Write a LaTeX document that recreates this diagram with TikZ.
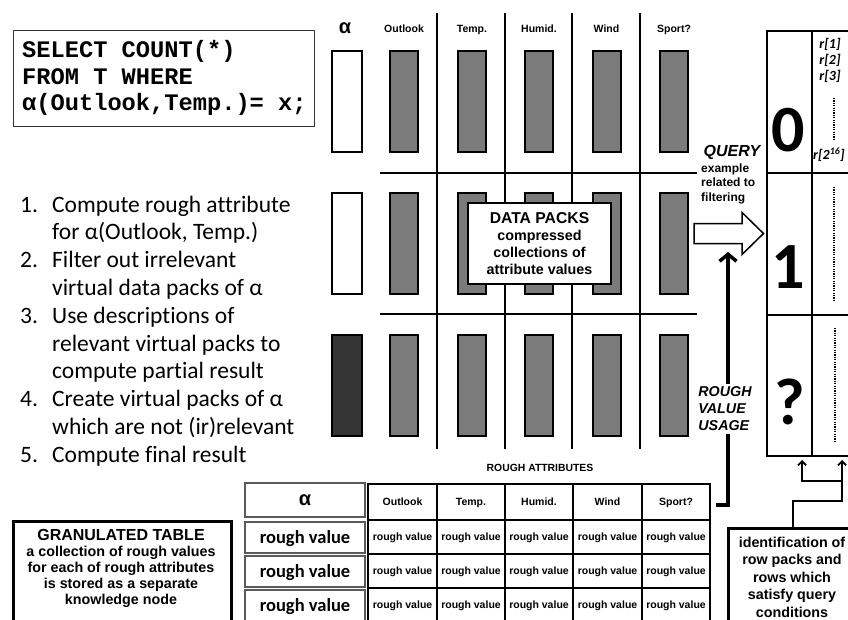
\documentclass[tikz,border=0pt]{standalone}
\usepackage{fontspec}
\setmainfont{Carlito}[Ligatures=NoCommon]
\newfontfamily\arialfont{Liberation Sans}
\newfontfamily\monofont{Liberation Mono}
\usetikzlibrary{arrows.meta}
\definecolor{packgray}{HTML}{7B7B7B}
\definecolor{packdark}{HTML}{353535}
\definecolor{framegray}{HTML}{5A5A5A}
\newcommand\fsz[2]{\fontsize{#1}{#2}\selectfont}

\begin{document}
\begin{tikzpicture}[x=1pt,y=-1pt,
  packbox/.style={draw, line width=2pt, fill=packgray, minimum width=28pt, minimum height=101pt, inner sep=0pt},
  alphabox/.style={packbox, minimum width=30pt},
  gridline/.style={line width=2pt},
  colhead/.style={font=\arialfont\bfseries\fsz{10.5}{12}, anchor=base, inner sep=0pt},
  cellbox/.style={draw, line width=2pt, inner sep=0pt},
  tabcell/.style={draw, line width=2.5pt, inner sep=0pt, text height=7.6pt, text depth=0pt, font=\arialfont\bfseries\fsz{10.5}{12}},
  leftcell/.style={draw=framegray, line width=1.3pt, inner sep=0pt, minimum width=120pt},
  bigdigit/.style={font=\bfseries\fsz{66}{70}, inner sep=0pt},
  rlabel/.style={font=\bfseries\itshape\fsz{14}{16}, inner sep=0pt},
  dotline/.style={line width=1.6pt, dash pattern=on 1.2pt off 1.2pt},
  listnum/.style={anchor=base west, inner sep=0pt, font=\fsz{23.5}{28}},
  bodybold/.style={font=\arialfont\bfseries\fsz{14.3}{17}, align=center, inner sep=0pt},
  bigarrow/.style={line width=3.5pt, -{Straight Barb[length=7pt,width=17pt]}},
  smallarrow/.style={line width=1.8pt, -{Straight Barb[length=4pt,width=8pt]}},
]
\useasboundingbox (0,0) rectangle (848,619);
\clip (0,0) rectangle (848,619);

% ---- query text box ----
\node[draw=black!80, line width=1.2pt, minimum width=301pt, minimum height=96pt, anchor=north west] (sqlbox) at (13,30) {};
\node[anchor=west, align=left, inner sep=0pt, font=\monofont\bfseries\fsz{23.7}{26.5}] (sql) at (22,78)
  {SELECT COUNT(*)\\FROM T WHERE\\α(Outlook,Temp.)= x;};

% ---- numbered steps ----
\foreach \i/\t [count=\k from 0] in {
  1/Compute rough attribute,
  /for α(Outlook{,} Temp.),
  2/Filter out irrelevant,
  /virtual data packs of α,
  3/Use descriptions of,
  /relevant virtual packs to,
  /compute partial result,
  4/Create virtual packs of α,
  /which are not (ir)relevant,
  5/Compute final result} {
  \node[listnum] (num\k) at (20,212+27.8*\k) {\ifx\i\empty\else\i.\fi};
  \node[listnum] (step\k) at (52,212+27.8*\k) {\t};
}

% ---- column grid of the data packs ----
\foreach \x in {437,505,572,640} \draw[gridline] (\x,13) -- (\x,449);
\foreach \y in {173,314} \draw[gridline] (380,\y) -- (697,\y);

% column headers
\node[font=\arialfont\bfseries\fsz{20}{21}, anchor=base, inner sep=0pt] (halpha) at (345,33) {α};
\foreach \nm/\x/\lab in {out/404/Outlook, tmp/472/Temp., hum/539/Humid., wnd/606.5/Wind, spt/674/Sport?}
  \node[colhead] (head-\nm) at (\x,32) {\lab};

% data packs
\foreach \nm/\x in {out/404, tmp/472, hum/539, wnd/606.5, spt/674}
  \foreach \r/\y in {a/101.5, b/243, c/385}
    \node[packbox] (\nm-\r) at (\x,\y) {};
\node[alphabox, fill=white] (al-a) at (347,101.5) {};
\node[alphabox, fill=white] (al-b) at (347,243) {};
\node[alphabox, fill=packdark] (al-c) at (347,385) {};

\node[draw, line width=2pt, fill=white, minimum width=143pt, minimum height=81pt, bodybold] (dp) at (539.5,243.5)
  {{\fsz{15.7}{19}DATA PACKS}\\compressed\\collections of\\attribute values};

% ---- row packs on the right ----
\node[cellbox, minimum width=45pt, minimum height=142pt] (c0) at (789.5,102) {};
\node[cellbox, minimum width=45pt, minimum height=142pt] (c1) at (789.5,244) {};
\node[cellbox, minimum width=45pt, minimum height=141pt] (c2) at (789.5,385.5) {};
\node[cellbox, minimum width=60pt, minimum height=142pt] (r0) at (842,102) {};
\node[cellbox, minimum width=60pt, minimum height=142pt] (r1) at (842,244) {};
\node[cellbox, minimum width=60pt, minimum height=141pt] (r2) at (842,385.5) {};

\node[bigdigit] (d0) at (788,130) {0};
\node[bigdigit] (d1) at (788,267) {1};
\node[bigdigit] (d2) at (790,402) {?};

\node[rlabel] (rr1) at (830,44) {r[1]};
\node[rlabel] (rr2) at (830,60) {r[2]};
\node[rlabel] (rr3) at (830,76) {r[3]};
\node[rlabel, anchor=west] (rrn) at (813,155) {r[2\textsuperscript{16}]};
\draw[dotline] (834,98) -- (834,140);
\draw[dotline] (834,187) -- (834,302);
\draw[dotline] (835,328) -- (835,442);

% ---- query arrow ----
\node[font=\arialfont\bfseries\itshape\fsz{16}{18}, inner sep=0pt] (qtitle) at (732,152) {QUERY};
\node[anchor=west, align=left, inner sep=0pt, font=\arialfont\bfseries\fsz{12}{14.5}] (qtext) at (701,183.5)
  {example\\related to\\filtering};
\draw[line width=1.5pt, fill=white, line join=miter]
  (694,223.5) -- (742,223.5) -- (742,212.5) -- (763.5,233.5) -- (742,254.5) -- (742,243.5) -- (694,243.5) -- cycle;
\coordinate (qtip) at (728,252);

% ---- rough attributes table ----
\node[font=\arialfont\bfseries\fsz{10.4}{12}] (rattr) at (540,468) {ROUGH ATTRIBUTES};
\foreach \c/\x/\w/\lab in {1/402.5/69/Outlook, 2/471/68/Temp., 3/539/68/Humid., 4/607.5/69/Wind, 5/676/68/Sport?} {
  \node[tabcell, minimum width=\w pt, minimum height=36pt] (h\c) at (\x,502) {\lab};
  \foreach \r/\y in {1/537, 2/571, 3/605}
    \node[tabcell, minimum width=\w pt, minimum height=34pt] (v\r-\c) at (\x,\y) {rough value};
}

\node[leftcell, minimum height=34pt, font=\arialfont\bfseries\fsz{20}{21}] (la) at (305,500) {α};
\foreach \r/\y in {1/537.5, 2/571.5, 3/605.5}
  \node[leftcell, minimum height=31pt, text height=12pt, text depth=0pt, font=\bfseries\fsz{18.5}{20}] (lr\r) at (305,\y) {rough value};

% ---- rough value usage ----
\draw[bigarrow] ([shift={(5,3)}]h5.east) -| (qtip);
\node[fill=white, align=left, inner sep=3pt, font=\arialfont\bfseries\itshape\fsz{14.3}{17}] (usage) at (725,409)
  {ROUGH\\VALUE\\USAGE};

% ---- granulated table note ----
\node[draw, line width=2.5pt, minimum width=218pt, minimum height=120pt, anchor=north west] (gt) at (12,520) {};
\node[bodybold, font=\arialfont\bfseries\fsz{14.3}{16}] (gttext) at (121,568)
  {{\fsz{16}{19}GRANULATED TABLE}\\a collection of rough values\\for each of rough attributes\\is stored as a separate\\knowledge node};

% ---- identification note ----
\node[draw, line width=2.5pt, minimum width=140pt, minimum height=120pt, anchor=north west] (ident) at (727,527) {};
\node[bodybold, font=\arialfont\bfseries\fsz{14.3}{17.5}] (idtext) at (792,577)
  {identification of\\row packs and\\rows which\\satisfy query\\conditions};
\draw[smallarrow, shorten >=3pt] ([xshift=66pt]ident.north west) |- ([yshift=-44pt]r2.south) -- (r2.south);
\draw[smallarrow, shorten >=3pt] ([yshift=-24pt]r2.south) -| ([xshift=12.5pt]c2.south);
\end{tikzpicture}
\end{document}
